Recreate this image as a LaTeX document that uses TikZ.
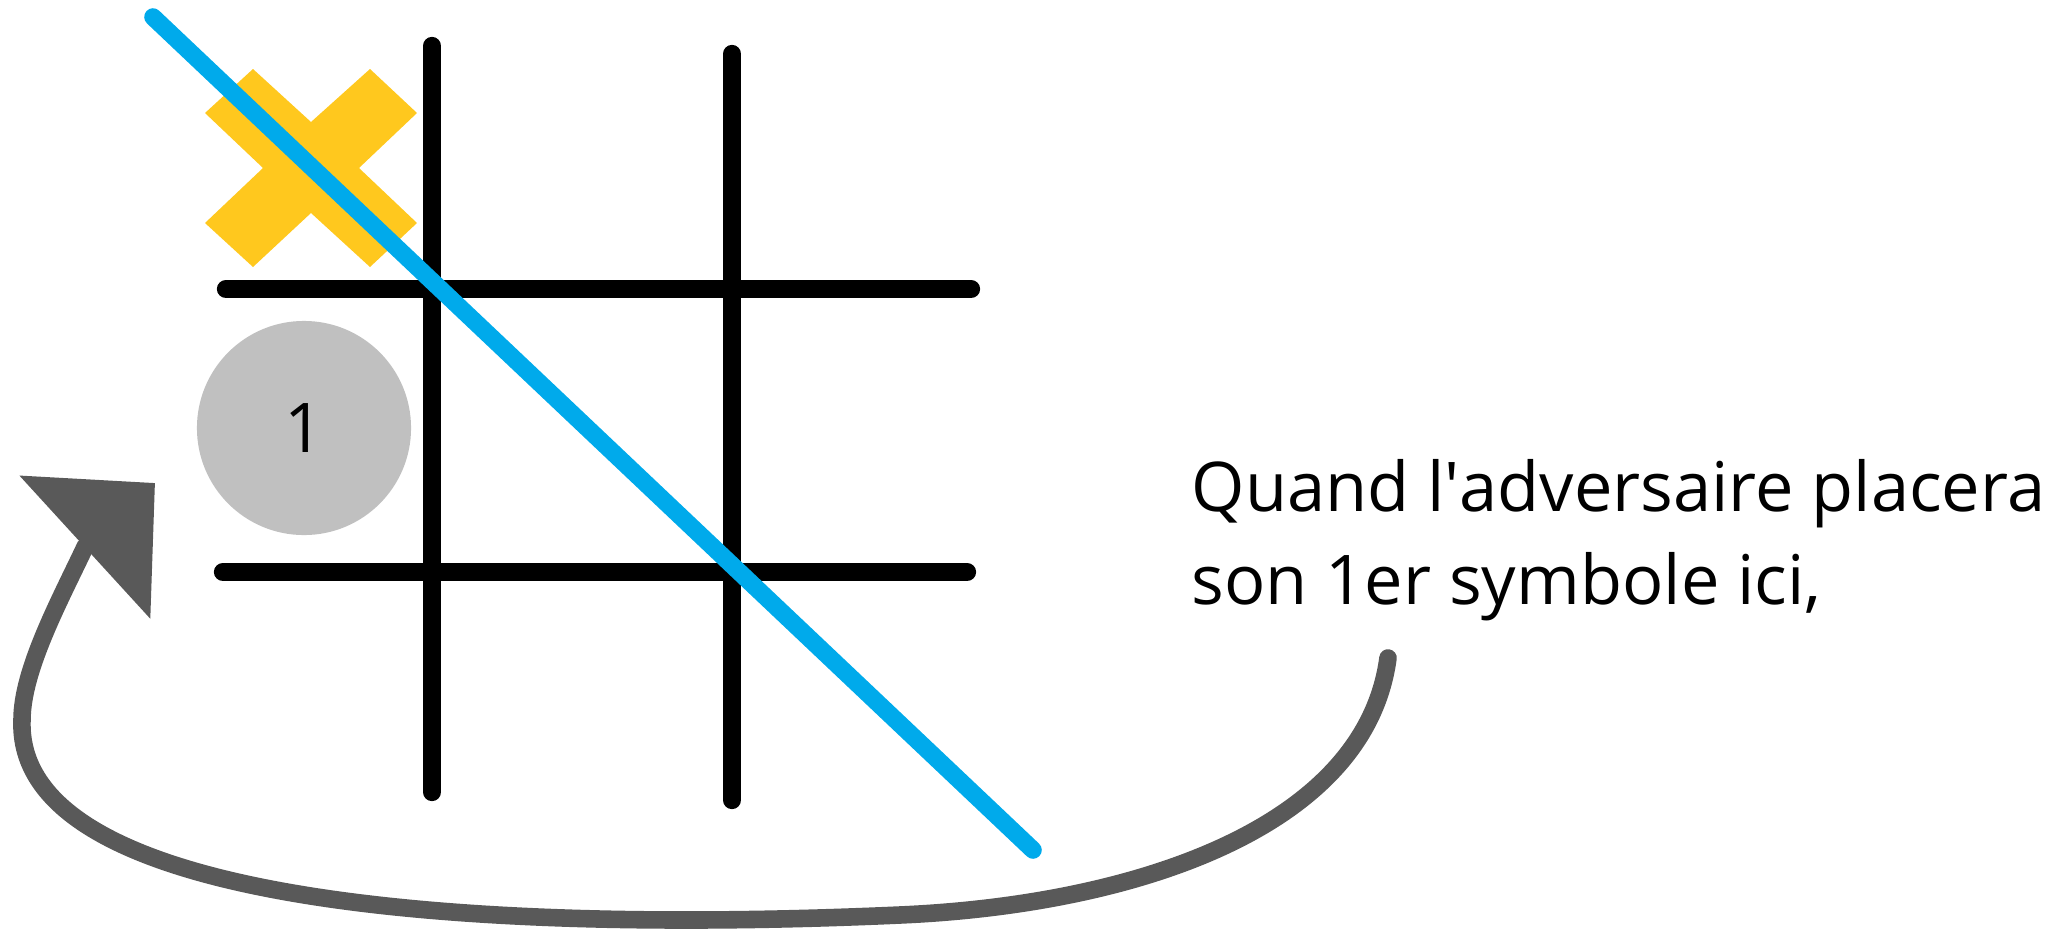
\documentclass[tikz,border=0pt]{standalone}
\usepackage{fontspec}
\setmainfont{Open Sans}
\usetikzlibrary{arrows.meta}
\definecolor{xgold}{RGB}{255,200,30}
\definecolor{lineblue}{RGB}{0,170,235}
\definecolor{diskgray}{RGB}{192,192,192}
\definecolor{arrowgray}{RGB}{89,89,89}

\begin{document}
\begin{tikzpicture}[x=0.01cm, y=-0.01cm, font=\fontsize{19.5}{26.5}\selectfont]
	\tikzset{gridline/.style={line width=5.2pt, line cap=round}}
	\tikzset{disk/.style={circle, fill=diskgray, minimum size=2.14cm, inner sep=0pt}}
	\useasboundingbox (0,0) rectangle (2053,930);
	\draw[gridline] (432,46) -- (432,792);
	\draw[gridline] (732,54) -- (732,800);
	\draw[gridline] (226,289) -- (971,289);
	\draw[gridline] (223,572) -- (967,572);
	\fill[xgold] (253,69) -- (311,122) -- (370,69) -- (417,113) -- (359,168) -- (417,223) -- (370,267) -- (311,213) -- (253,267) -- (205,223) -- (263,168) -- (205,113) -- cycle;
	\draw[lineblue, line width=5pt, line cap=round] (153,17) -- (1033,850);
	\node[disk] (c1) at (304,428) {1};
	\node[anchor=north west, align=left, inner sep=0pt] (msg) at (1191,459) {Quand l\textquotesingle adversaire placera\\son 1er symbole ici,};
	\coordinate (tail) at (1388,658);
	\coordinate (neck) at (85,547);
	\coordinate (head) at (155,483);
	\draw[arrowgray, line width=5pt, line cap=round, -{Triangle[length=0.95cm, width=1.9cm]}] (tail) .. controls (1365,830) and (1130,905) .. (900,915) .. controls (450,935) and (15,900) .. (22,720) .. controls (22,670) and (60,600) .. (neck) -- (head);
\end{tikzpicture}
\end{document}
